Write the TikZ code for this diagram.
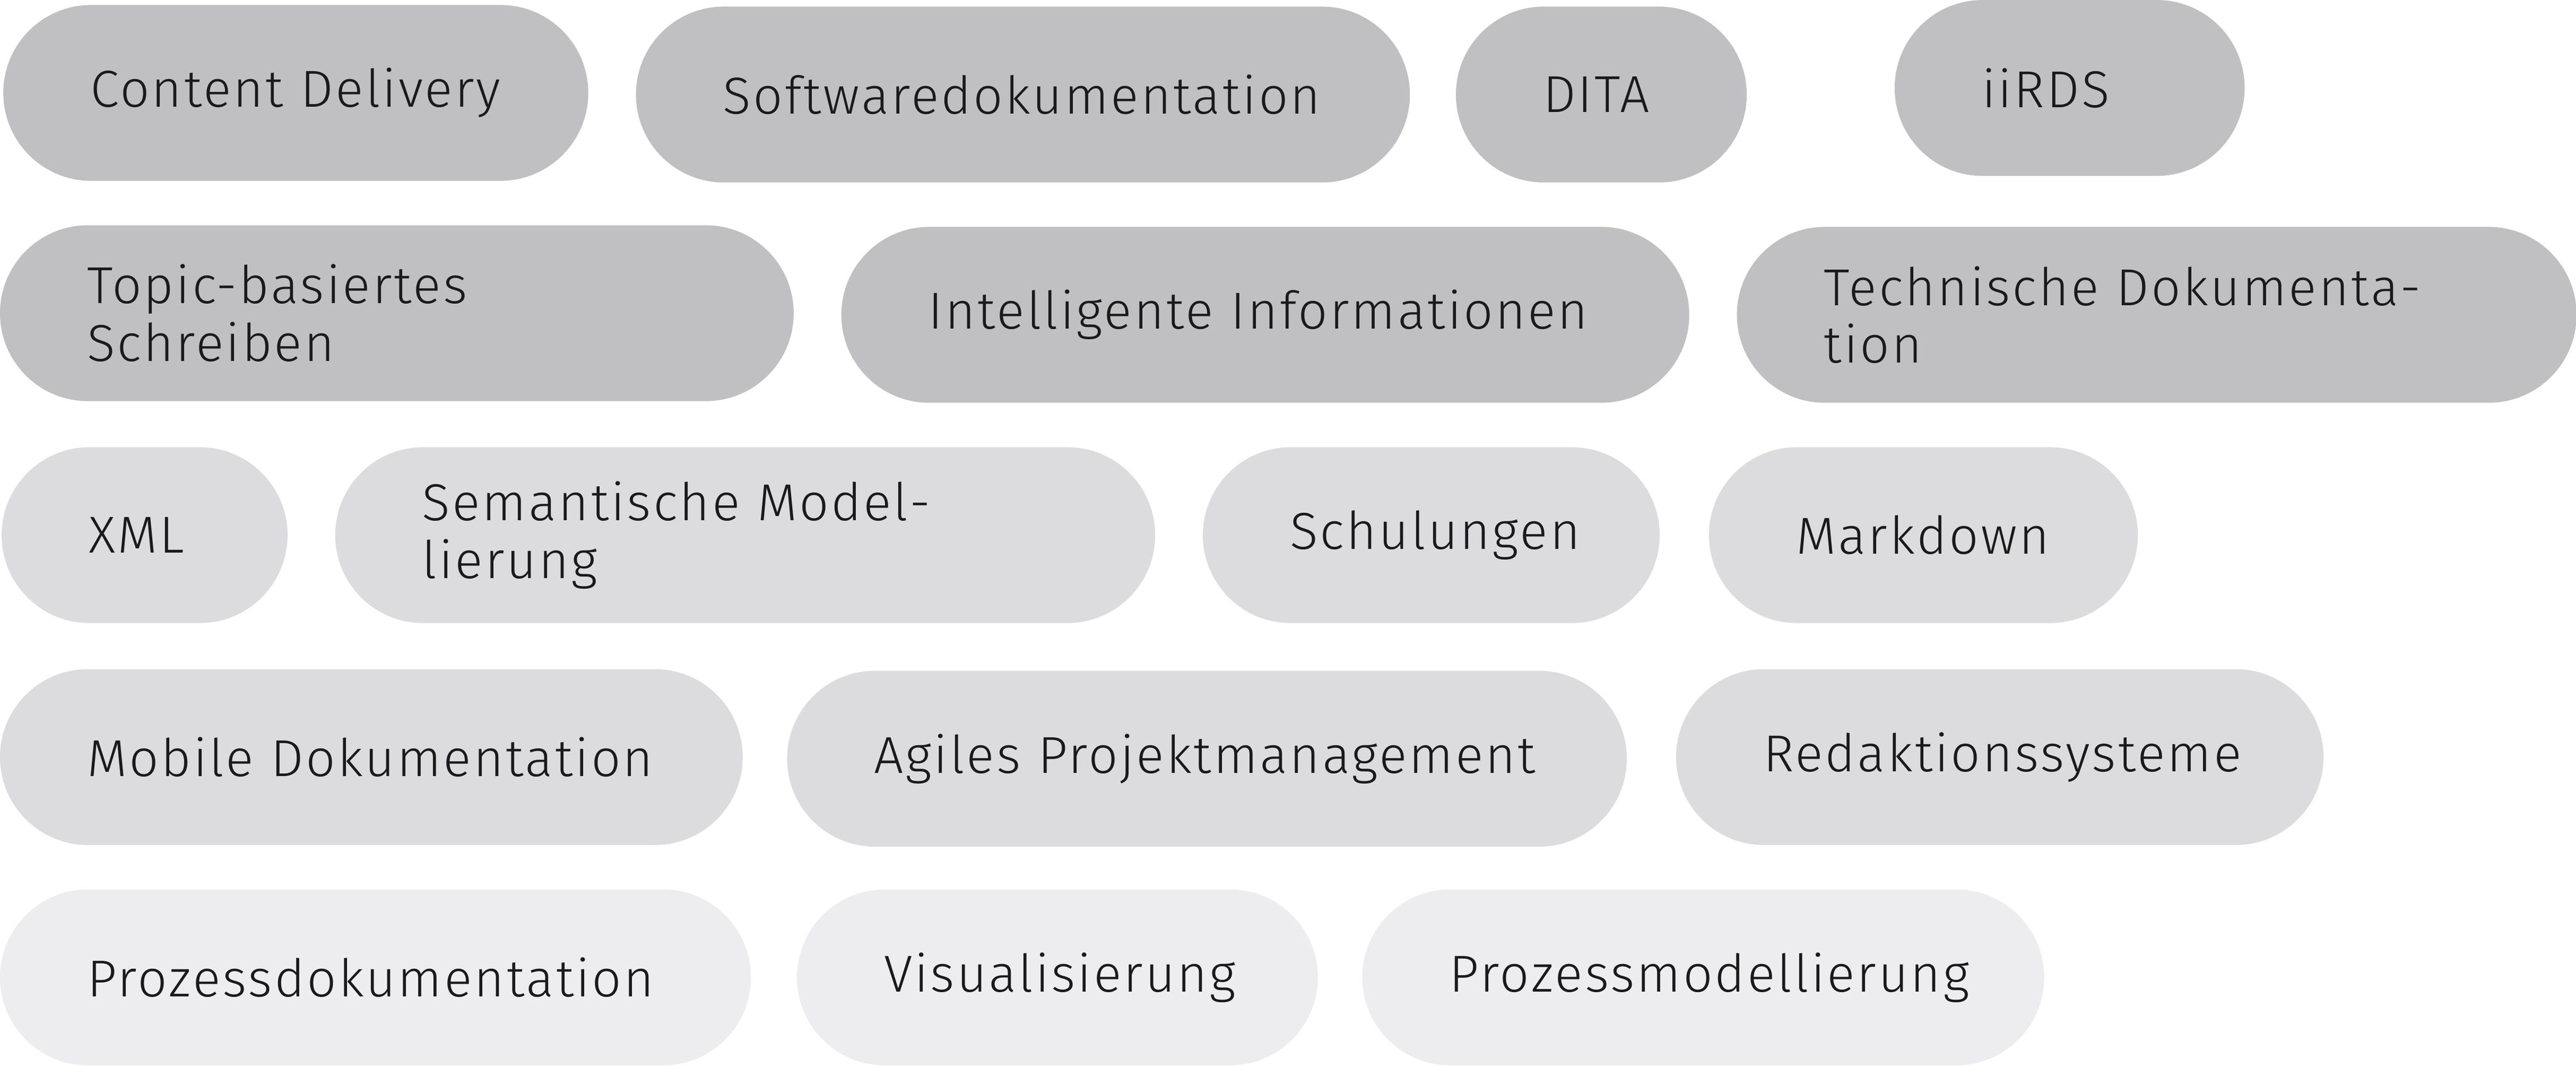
\documentclass[tikz,border=0pt]{standalone}
\usepackage{fontspec}
\setmainfont{Fira Sans}[UprightFont=* Light]
\definecolor{cA}{HTML}{C0C0C2}
\definecolor{cB}{HTML}{DCDCDE}
\definecolor{cC}{HTML}{EDEDEF}
\definecolor{tx}{HTML}{1A1A1A}
\tikzset{pill/.style={fill=#1,draw=none,rounded corners=1.07cm,minimum height=2.14cm,inner sep=0pt,align=left,text=tx,font=\fontsize{18}{20}\selectfont\addfontfeature{LetterSpace=4}}}
\newcommand{\pill}[6]{%
 \pgfmathsetmacro{\pw}{(#3-#2)*0.02}%
 \pgfmathsetmacro{\tw}{(#3-#2-106)*0.02}%
 \pgfmathsetmacro{\cx}{(#2+#3)/2*0.02}%
 \pgfmathsetmacro{\cy}{-(#4+53.5)*0.02}%
 \node[pill=#5,minimum width=\pw cm,text width=\tw cm] (#1) at (\cx,\cy) {#6};}
\begin{document}
\begin{tikzpicture}
\useasboundingbox (0,0) rectangle (31.36,-12.98);
\pill{a1}{2}{358}{3}{cA}{Content Delivery}
\pill{a2}{387}{858}{4}{cA}{Softwaredokumentation}
\pill{a3}{886}{1063}{4}{cA}{DITA}
\pill{a4}{1153}{1366}{0}{cA}{iiRDS}
\pill{b1}{0}{483}{137}{cA}{Topic-basiertes Schreiben}
\pill{b2}{512}{1028}{138}{cA}{Intelligente Informationen}
\pill{b3}{1057}{1568}{138}{cA}{Technische Dokumentation}
\pill{c1}{1}{175}{272}{cB}{XML}
\pill{c2}{204}{703}{272}{cB}{Semantische Modellierung}
\pill{c3}{732}{1010}{272}{cB}{Schulungen}
\pill{c4}{1040}{1301}{272}{cB}{Markdown}
\pill{d1}{0}{452}{407}{cB}{Mobile Dokumentation}
\pill{d2}{479}{990}{408}{cB}{Agiles Projektmanagement}
\pill{d3}{1020}{1414}{407}{cB}{Redaktionssysteme}
\pill{e1}{0}{457}{541}{cC}{Prozessdokumentation}
\pill{e2}{485}{802}{541}{cC}{Visualisierung}
\pill{e3}{829}{1244}{541}{cC}{Prozessmodellierung}
\end{tikzpicture}
\end{document}
